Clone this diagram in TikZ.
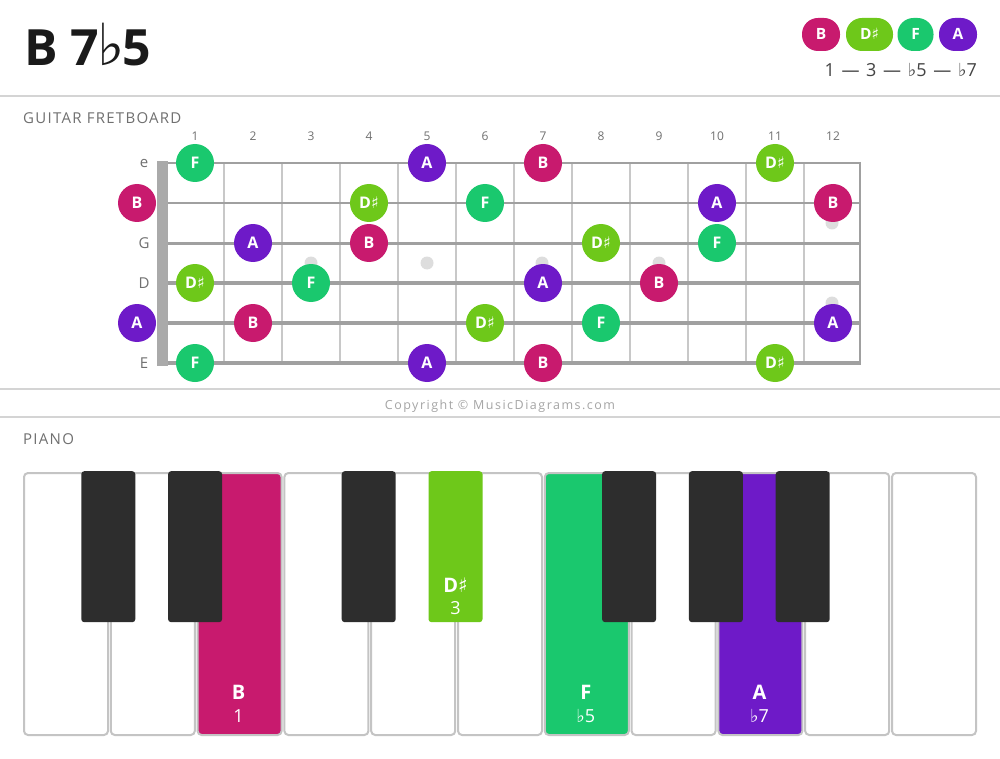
\documentclass[tikz,border=0pt]{standalone}
\usepackage{fontspec}
\setmainfont{Open Sans}
\newfontfamily\symfont{DejaVu Sans}
\newfontfamily\spacedfont[LetterSpace=8.5]{Open Sans}
\newfontfamily\copyfont[LetterSpace=12]{Open Sans}
\definecolor{cB}{HTML}{C81A6E}
\definecolor{cD}{HTML}{6EC81A}
\definecolor{cF}{HTML}{1AC86E}
\definecolor{cA}{HTML}{6E1AC8}
\definecolor{strgray}{HTML}{A0A0A0}
\definecolor{fretgray}{HTML}{C8C8C8}
\definecolor{nutgray}{HTML}{AAAAAA}
\definecolor{sepgray}{HTML}{D4D4D4}
\definecolor{labgray}{HTML}{707070}
\definecolor{copygray}{HTML}{A5A5A5}
\definecolor{dotgray}{HTML}{DDDDDD}
\definecolor{keyborder}{HTML}{C4C4C4}
\definecolor{blackkey}{HTML}{2D2D2D}
\definecolor{titlecol}{HTML}{1A1A1A}
\definecolor{legcol}{HTML}{444444}
\newcommand\mysharp{{\symfont\char"266F}}
\newcommand\myflat{{\symfont\char"266D}}
\newcommand\titleflat{{\kern-2pt\symfont\mdseries\fontsize{58}{58}\selectfont\char"266D\kern-2pt}}
\newcommand\legdash{\kern2pt—\kern2pt}
\newcommand\lblB{B}
\newcommand\lblD{D\mysharp}
\newcommand\lblF{F}
\newcommand\lblA{A}
\tikzset{
  sepline/.style={draw=sepgray, line width=2pt},
  sectlabel/.style={anchor=base west, text=labgray, font=\spacedfont\fontsize{15}{15}\selectfont, inner sep=0pt},
  fretnum/.style={text=labgray, font=\fontsize{12}{12}\selectfont, inner sep=0pt},
  strname/.style={text=labgray, font=\fontsize{15}{15}\selectfont, inner sep=0pt},
  notecirc/.style={circle, minimum size=38pt, inner sep=0pt, text=white,
    font=\bfseries\fontsize{16}{16}\selectfont, text height=11.5pt, text depth=0pt},
  pill/.style={rectangle, rounded corners=16pt, minimum height=33pt, inner sep=0pt, text=white,
    font=\bfseries\fontsize{15.5}{15.5}\selectfont, text height=11pt, text depth=0pt},
  whitekey/.style={rectangle, rounded corners=4pt, draw=keyborder, line width=2pt,
    minimum width=84pt, minimum height=262pt, anchor=north west, inner sep=0pt},
  blackkeystyle/.style={rectangle, rounded corners=3pt, minimum width=54pt,
    minimum height=151pt, anchor=north, inner sep=0pt},
  keyname/.style={anchor=base, text=white, font=\bfseries\fontsize{20}{20}\selectfont, inner sep=0pt},
  keydeg/.style={anchor=base, text=white, font=\fontsize{18}{18}\selectfont, inner sep=0pt},
}
\begin{document}
\begin{tikzpicture}[x=1pt,y=-1pt]
\fill[white] (0,0) rectangle (1000,759);
\path[use as bounding box] (0,0) rectangle (1000,759);

% title
\node[anchor=base west, inner sep=0pt, text=titlecol, font=\bfseries\fontsize{50}{50}\selectfont] (title) at (24,66) {B 7\titleflat5};

% legend
\node[pill, fill=cB, minimum width=38pt] (legB) at (821,34.5) {B};
\node[pill, fill=cD, minimum width=47pt] (legD) at (869.5,34.5) {D\mysharp};
\node[pill, fill=cF, minimum width=36pt] (legF) at (915.5,34.5) {F};
\node[pill, fill=cA, minimum width=38pt] (legA) at (958,34.5) {A};
\node[anchor=base east, inner sep=0pt, text=legcol, font=\fontsize{18}{18}\selectfont] (formula) at (977,76.5) {1 \legdash{} 3 \legdash{} \myflat5 \legdash{} \myflat7};

% separators
\coordinate (s1l) at (0,96); \coordinate (s1r) at (1000,96);
\coordinate (s2l) at (0,389); \coordinate (s2r) at (1000,389);
\coordinate (s3l) at (0,417); \coordinate (s3r) at (1000,417);
\draw[sepline] (s1l) -- (s1r);
\draw[sepline] (s2l) -- (s2r);
\draw[sepline] (s3l) -- (s3r);

\node[sectlabel] (gtitle) at (23,124) {GUITAR FRETBOARD};
\node[sectlabel] (ptitle) at (23,444.5) {PIANO};
\node[text=copygray, font=\copyfont\fontsize{12.5}{12.5}\selectfont, inner sep=0pt] (copy) at (500,406) {Copyright © MusicDiagrams.com};

% fret numbers
\foreach \f in {1,...,12} {
  \node[fretnum] (fn\f) at ({137+58*\f},136) {\f};
}
% string names (B and A are hidden under the open-string notes)
\foreach \s/\n in {0/e,2/G,3/D,5/E} {
  \node[strname] (sn\s) at (144,{163+40*\s}) {\n};
}
% frets
\foreach \f in {1,...,11} {
  \coordinate (ft\f) at ({166+58*\f},163);
  \coordinate (fb\f) at ({166+58*\f},363);
  \draw[fretgray, line width=2pt] (ft\f) -- (fb\f);
}
\coordinate (endt) at (860,162);
\coordinate (endb) at (860,364.5);
\draw[strgray, line width=2.5pt] (endt) -- (endb);
% strings
\foreach \s/\w in {0/2.6,1/2.8,2/3.0,3/3.2,4/3.4,5/3.6} {
  \coordinate (sl\s) at (160,{163+40*\s});
  \coordinate (sr\s) at (861,{163+40*\s});
  \draw[strgray, line width=\w pt] (sl\s) -- (sr\s);
}
% nut
\fill[nutgray] (157,161) rectangle (168,365.5);
% inlay dots
\foreach \x/\y in {311/263,427/263,542/263,659/263,832/223,832/303} {
  \fill[dotgray] (\x,\y) circle (6.5);
}
% notes on fretboard
\foreach \s/\f/\n in {0/1/F,0/5/A,0/7/B,0/11/D,
  1/0/B,1/4/D,1/6/F,1/10/A,1/12/B,
  2/2/A,2/4/B,2/8/D,2/10/F,
  3/1/D,3/3/F,3/7/A,3/9/B,
  4/0/A,4/2/B,4/6/D,4/8/F,4/12/A,
  5/1/F,5/5/A,5/7/B,5/11/D} {
  \node[notecirc, fill=c\n] (nt-\s-\f) at ({137+58*\f},{163+40*\s}) {\csname lbl\n\endcsname};
}

% piano white keys
\foreach \i/\c in {0/white,1/white,2/cB,3/white,4/white,5/white,6/cF,7/white,8/cA,9/white,10/white} {
  \node[whitekey, fill=\c] (wk\i) at ({23+86.8*\i},472) {};
}
% black keys
\foreach \k/\c in {1/blackkey,2/blackkey,4/blackkey,5/cD,7/blackkey,8/blackkey,9/blackkey} {
  \node[blackkeystyle, fill=\c] (bk\k) at ({23+86.8*\k-1.5},471) {};
}
% key labels
\node[keyname] (kB) at (238.6,699) {B};
\node[keydeg] (kB1) at (238.6,722) {1};
\node[keyname] (kF) at (585.8,699) {F};
\node[keydeg] (kF1) at (585.8,722) {\myflat5};
\node[keyname] (kA) at (759.4,699) {A};
\node[keydeg] (kA1) at (759.4,722) {\myflat7};
\node[keyname] (kD) at (455.5,592) {D\mysharp};
\node[keydeg] (kD1) at (455.5,614) {3};
\end{tikzpicture}
\end{document}
